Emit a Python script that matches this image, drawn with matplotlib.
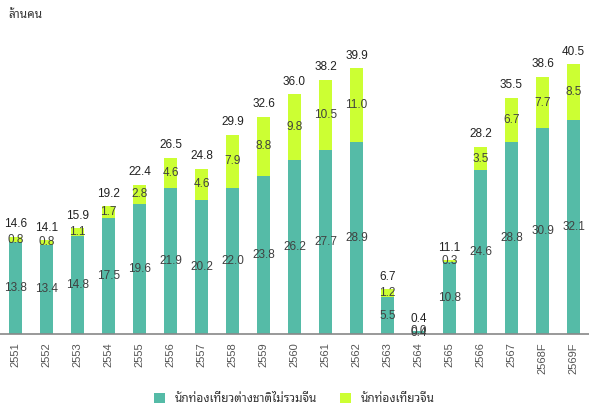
import numpy as np
import matplotlib.pyplot as plt
from matplotlib import font_manager

years = ['2551', '2552', '2553', '2554', '2555', '2556', '2557', '2558', '2559', '2560',
         '2561', '2562', '2563', '2564', '2565', '2566', '2567', '2568F', '2569F']
others = [13.8, 13.4, 14.8, 17.5, 19.6, 21.9, 20.2, 22.0, 23.8, 26.2,
          27.7, 28.9, 5.5, 0.4, 10.8, 24.6, 28.8, 30.9, 32.1]
china = [0.8, 0.8, 1.1, 1.7, 2.8, 4.6, 4.6, 7.9, 8.8, 9.8,
         10.5, 11.0, 1.2, 0.0, 0.3, 3.5, 6.7, 7.7, 8.5]
totals = [14.6, 14.1, 15.9, 19.2, 22.4, 26.5, 24.8, 29.9, 32.6, 36.0,
          38.2, 39.9, 6.7, 0.4, 11.1, 28.2, 35.5, 38.6, 40.5]

# find something that can draw Thai (looped one looks closer)
thai = sorted({f.name for f in font_manager.fontManager.ttflist if 'Thai' in f.name},
              key=lambda n: 'Looped' not in n)
plt.rcParams['font.family'] = ['Liberation Sans'] + thai[:1] + ['DejaVu Sans']

teal = '#55BBA7'
lime = '#CCFF33'
txt = '#404040'

fig = plt.figure(figsize=(5.89, 4.16), dpi=100)
ax = fig.add_axes([0.0, 0.197, 1.0, 0.72])
x = np.arange(len(years))
w = 0.42
ax.bar(x, others, w, color=teal, label='นักท่องเที่ยวต่างชาติไม่รวมจีน', zorder=2)
ax.bar(x, china, w, bottom=others, color=lime, label='นักท่องเที่ยวจีน', zorder=2)

for i in range(len(years)):
    ax.text(x[i], others[i] / 2, f'{others[i]:.1f}', ha='center', va='center',
            fontsize=8.5, color=txt, zorder=3)
    ax.text(x[i], others[i] + china[i] / 2, f'{china[i]:.1f}', ha='center', va='center',
            fontsize=8.5, color=txt, zorder=3)
    ax.text(x[i], totals[i] + 1.0, f'{totals[i]:.1f}', ha='center', va='bottom',
            fontsize=8.5, color='#222222', zorder=3)

ax.set_xlim(-0.5, len(years) - 0.5)
ax.set_ylim(0, 45)
ax.set_yticks([])
for s in ['top', 'right', 'left']:
    ax.spines[s].set_visible(False)
ax.spines['bottom'].set_color('#888888')
ax.spines['bottom'].set_linewidth(1.2)
ax.set_xticks(x)
ax.set_xticklabels(years, rotation=90, fontsize=8, color='#555555')
ax.tick_params(axis='x', length=0, pad=6)

fig.text(0.014, 0.965, 'ล้านคน', fontsize=8.5, color='#333333', va='center')
fig.legend(loc='lower center', bbox_to_anchor=(0.5, 0.0), ncol=2, frameon=False,
           fontsize=8.5, handlelength=0.9, handleheight=0.9, columnspacing=2.0,
           labelcolor='#333333')

fig.savefig('out.png', dpi=100)
